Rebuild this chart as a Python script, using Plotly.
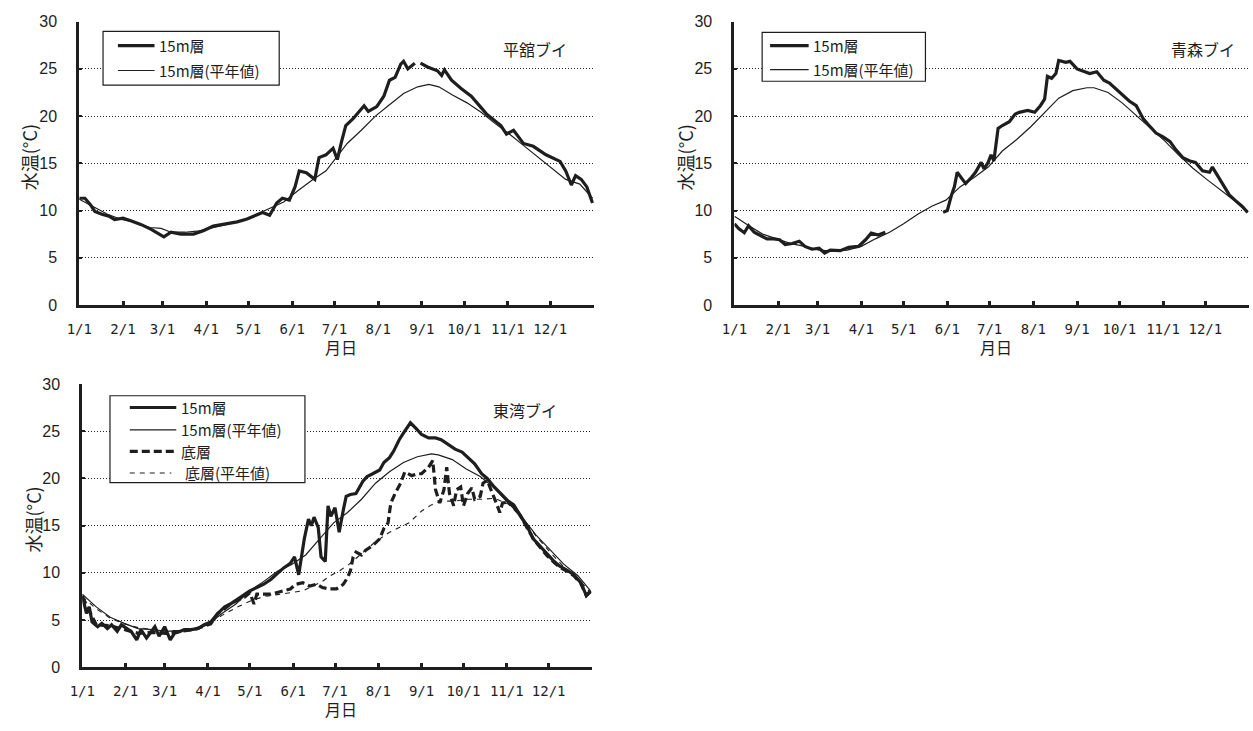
import pandas as pd
import plotly.graph_objects as go

# ---------------- data (day of year from 1/1, water temperature in deg C) -------------
month_ticks = ["1/1", "2/1", "3/1", "4/1", "5/1", "6/1", "7/1", "8/1", "9/1", "10/1", "11/1", "12/1", ""]
month_tick_dates = ["2010-01-01", "2010-02-01", "2010-03-01", "2010-04-01", "2010-05-01", "2010-06-01",
                    "2010-07-01", "2010-08-01", "2010-09-01", "2010-10-01", "2010-11-01", "2010-12-01",
                    "2011-01-01"]

# 平舘ブイ
tairadate_15m_day = [0, 4, 8, 11, 16, 21, 25, 31, 37, 44, 51, 56, 60, 65, 72, 81, 88, 95, 105, 112, 119, 126,
                     130, 135, 140, 144, 149, 153, 156, 161, 167, 170, 175, 180, 183, 186, 189, 194, 198, 202,
                     205, 211, 216, 220, 224, 228, 230, 233, 238, 240, 242, 247, 254, 257, 259, 264, 271, 278,
                     285, 289, 299, 303, 308, 315, 322, 331, 341, 345, 349, 352, 356, 360, 364]
tairadate_15m = [11.3, 11.3, 10.6, 9.9, 9.6, 9.4, 9.05, 9.2, 8.9, 8.5, 8.0, 7.5, 7.2, 7.7, 7.5, 7.5, 7.85, 8.35,
                 8.6, 8.8, 9.1, 9.5, 9.8, 9.5, 10.8, 11.3, 11.1, 12.5, 14.2, 14.0, 13.3, 15.6, 15.9, 16.6, 15.4,
                 17.3, 19.0, 19.7, 20.4, 21.1, 20.5, 21.0, 22.1, 23.8, 24.1, 25.5, 25.8, 25.0, 25.6, None, 25.6,
                 25.2, 24.8, 24.3, 24.9, 23.8, 22.9, 22.1, 20.9, 20.2, 19.0, 18.1, 18.5, 17.1, 16.8, 15.9, 15.2,
                 14.2, 12.7, 13.7, 13.3, 12.5, 10.8]
tairadate_norm_day = [0, 10, 20, 30, 40, 50, 58, 65, 75, 85, 95, 105, 115, 125, 135, 145, 155, 165, 175, 180,
                      190, 200, 210, 220, 230, 240, 248, 255, 265, 275, 285, 295, 305, 315, 325, 335, 345, 355, 364]
tairadate_norm = [11.2, 10.4, 9.6, 9.05, 8.7, 8.2, 8.1, 7.7, 7.7, 7.85, 8.2, 8.55, 8.9, 9.55, 10.25, 10.9, 12.1,
                  13.2, 14.2, 15.2, 17.1, 18.5, 20.0, 21.2, 22.4, 23.1, 23.35, 23.1, 22.2, 21.4, 20.4, 19.2, 18.1,
                  16.9, 15.7, 14.5, 13.3, 12.8, 11.3]

# 青森ブイ
aomori_15m_day = [0, 3, 7, 10, 14, 19, 23, 28, 32, 36, 41, 46, 50, 55, 60, 64, 68, 75, 81, 88, 93, 97, 102, 107,
                  128, 148, 151, 154, 156, 158, 161, 164, 168, 171, 175, 177, 180, 182, 184, 187, 190, 195, 199,
                  202, 208, 213, 217, 220, 222, 225, 228, 230, 235, 238, 243, 248, 252, 257, 262, 266, 271, 276,
                  280, 285, 290, 295, 299, 304, 309, 313, 318, 323, 327, 332, 337, 339, 342, 346, 351, 355, 360, 364]
aomori_15m = [8.6, 8.1, 7.65, 8.4, 7.7, 7.3, 7.0, 7.0, 6.9, 6.4, 6.5, 6.75, 6.2, 5.9, 6.0, 5.5, 5.8, 5.75, 6.1,
              6.2, 6.9, 7.6, 7.4, 7.7, None, 9.8, 10.0, 11.65, 12.5, 14.05, 13.5, 12.85, 13.5, 14.05, 15.1, 14.4,
              15.1, 15.9, 15.25, 18.7, 19.0, 19.4, 20.2, 20.4, 20.6, 20.4, 21.1, 21.8, 24.2, 24.0, 24.5, 25.9,
              25.7, 25.8, 25.0, 24.7, 24.5, 24.7, 23.8, 23.5, 22.8, 22.1, 21.6, 21.1, 19.7, 18.85, 18.2, 17.8,
              17.3, 16.45, 15.6, 15.25, 15.1, 14.2, 14.05, 14.6, 13.9, 12.85, 11.65, 11.1, 10.45, 9.8]
aomori_norm_day = [0, 10, 20, 30, 40, 50, 60, 70, 80, 90, 100, 110, 120, 130, 140, 150, 160, 170, 180, 190, 200,
                   210, 220, 230, 240, 250, 255, 265, 275, 285, 295, 305, 315, 325, 335, 345, 355, 364]
aomori_norm = [9.4, 8.4, 7.5, 7.0, 6.5, 6.2, 5.8, 5.7, 5.8, 6.2, 7.0, 7.7, 8.6, 9.6, 10.45, 11.1, 12.5, 13.5,
               14.6, 16.3, 17.5, 18.85, 20.4, 21.9, 22.7, 23.0, 23.0, 22.5, 21.4, 20.1, 18.8, 17.4, 15.9, 14.5,
               13.3, 12.1, 11.0, 9.8]

# 東湾ブイ
higashi_15m_day = [0, 3, 5, 7, 11, 14, 18, 21, 25, 28, 32, 35, 39, 42, 46, 50, 52, 55, 59, 63, 66, 70, 73, 78,
                   83, 87, 92, 97, 102, 106, 111, 116, 120, 125, 130, 135, 139, 144, 149, 152, 155, 157, 159,
                   162, 164, 166, 169, 171, 174, 176, 178, 181, 184, 187, 189, 192, 196, 201, 204, 208, 213, 216,
                   220, 223, 227, 230, 235, 239, 243, 248, 253, 257, 262, 267, 272, 276, 281, 286, 290, 295, 300,
                   305, 309, 314, 319, 323, 328, 333, 338, 342, 347, 352, 357, 361, 364]
higashi_15m = [7.6, 5.7, 6.4, 4.8, 4.3, 4.65, 4.1, 4.5, 3.8, 4.5, 4.1, 3.8, 2.9, 4.0, 3.1, 4.0, 4.3, 3.3, 4.3,
               2.9, 3.6, 3.8, 4.0, 4.0, 4.1, 4.5, 4.8, 5.7, 6.4, 6.7, 7.2, 7.6, 8.1, 8.45, 8.8, 9.3, 9.8, 10.5,
               11.0, 11.7, 9.8, 11.9, 13.6, 15.7, 15.0, 15.9, 14.8, 11.7, 11.2, 17.1, 16.0, 16.9, 14.3, 16.7,
               18.1, 18.3, 18.4, 19.7, 20.2, 20.5, 20.9, 21.7, 22.2, 22.9, 24.1, 24.8, 25.9, 25.3, 24.65, 24.3,
               24.3, 24.1, 23.6, 23.1, 22.8, 22.2, 21.55, 20.5, 20.0, 19.1, 18.3, 17.6, 17.2, 16.0, 14.8, 13.6,
               12.8, 11.9, 11.2, 10.7, 10.3, 9.8, 8.97, 7.6, 8.1]
higashi_15m_norm_day = [0, 10, 20, 30, 40, 50, 60, 70, 80, 90, 100, 110, 120, 130, 140, 150, 160, 170, 180, 190,
                        200, 210, 220, 230, 240, 250, 255, 265, 275, 285, 295, 305, 315, 325, 335, 345, 355, 364]
higashi_15m_norm = [7.75, 6.4, 5.3, 4.65, 4.1, 4.0, 3.8, 3.9, 4.0, 4.5, 5.7, 6.7, 8.1, 9.1, 10.2, 10.9, 11.9,
                    13.6, 15.3, 16.4, 17.8, 19.5, 20.7, 21.7, 22.3, 22.6, 22.5, 22.0, 21.0, 20.2, 19.0, 17.4,
                    15.9, 14.0, 12.4, 10.9, 9.7, 8.1]
higashi_bottom_day = [0, 5, 10, 20, 30, 40, 50, 60, 70, 80, 92, 97, 102, 106, 111, 116, 120, 123, 125, 130, 135,
                      139, 144, 149, 153, 158, 163, 168, 172, 177, 182, 187, 190, 192, 194, 196, 200, 203, 208,
                      213, 216, 219, 220, 221, 224, 228, 231, 236, 240, 243, 248, 251, 253, 256, 259, 261, 263,
                      266, 268, 271, 273, 276, 279, 281, 285, 287, 290, 294, 297, 299, 301, 305, 309, 314, 319,
                      323, 328, 333, 338, 342, 347, 352, 357, 361, 364]
higashi_bottom = [7.5, 6.0, 4.5, 4.4, 4.0, 3.6, 3.7, 3.6, 3.8, 4.0, 4.6, 5.7, 6.2, 6.7, 7.1, 7.4, 7.9, 6.7, 7.75,
                  7.75, 7.75, 7.9, 8.1, 8.3, 8.8, 8.95, 8.6, 8.8, 8.45, 8.3, 8.3, 8.8, 9.5, 10.2, 11.7, 12.2,
                  11.9, 12.4, 12.9, 13.6, 14.7, 15.3, 16.4, 17.4, 18.4, 19.5, 20.7, 20.3, 20.5, 20.5, 21.2, 21.9,
                  18.8, 17.4, 18.8, 21.2, 18.4, 17.1, 18.8, 19.1, 17.1, 18.4, 19.0, 17.8, 18.1, 19.5, 19.8, 18.4,
                  17.2, 16.4, 17.4, 17.5, 17.1, 16.0, 14.7, 13.6, 12.7, 11.8, 11.1, 10.6, 10.2, 9.7, 8.9, 7.6, 8.0]
higashi_bottom_norm_day = [0, 10, 20, 30, 40, 50, 60, 70, 80, 90, 100, 110, 120, 130, 140, 150, 158, 165, 172,
                           177, 184, 191, 201, 210, 220, 227, 234, 243, 250, 257, 267, 276, 286, 295, 305, 315,
                           325, 335, 345, 355, 364]
higashi_bottom_norm = [7.5, 6.2, 5.2, 4.6, 4.2, 4.0, 3.9, 3.9, 4.1, 4.5, 5.5, 6.3, 7.0, 7.5, 7.7, 7.9, 8.1, 8.6,
                       9.1, 9.65, 10.2, 10.9, 12.2, 13.3, 14.3, 14.8, 15.3, 16.55, 17.2, 17.6, 17.6, 17.8, 17.8,
                       17.9, 17.3, 15.8, 13.9, 12.2, 10.6, 9.4, 7.9]

legend_15m = "15m層"
legend_15m_norm = "15m層(平年値)"
legend_bottom = "底層"
legend_bottom_norm = "底層(平年値)"
station_names = ["平舘ブイ", "青森ブイ", "東湾ブイ"]
x_title = "月日"
y_title = "水温(°C)"

# ---------------- figure ----------------
W, H = 1253, 731
BASE = pd.Timestamp("2010-01-01")
INK = "#1e1e1e"
JP = "Noto Sans CJK JP, Noto Sans CJK SC, sans-serif"
NUM = "Liberation Sans, Arial, sans-serif"


def to_dates(days):
    return [BASE + pd.Timedelta(days=d) for d in days]


def px(xp):
    return xp / W


def py(yp):
    return 1 - yp / H


THICK = dict(color=INK, width=3.2)
THIN = dict(color=INK, width=1.2)
THICK_DASH = dict(color=INK, width=3.2, dash="8px,4px")
THIN_DASH = dict(color=INK, width=1.1, dash="5px,5px")

fig = go.Figure()


def add(days, vals, line, xa, ya, name):
    fig.add_trace(go.Scatter(x=to_dates(days), y=vals, mode="lines", line=line, name=name,
                             xaxis=xa, yaxis=ya, showlegend=False, connectgaps=False))


add(tairadate_norm_day, tairadate_norm, THIN, "x", "y", legend_15m_norm)
add(tairadate_15m_day, tairadate_15m, THICK, "x", "y", legend_15m)
add(aomori_norm_day, aomori_norm, THIN, "x2", "y2", legend_15m_norm)
add(aomori_15m_day, aomori_15m, THICK, "x2", "y2", legend_15m)
add(higashi_bottom_norm_day, higashi_bottom_norm, THIN_DASH, "x3", "y3", legend_bottom_norm)
add(higashi_bottom_day, higashi_bottom, THICK_DASH, "x3", "y3", legend_bottom)
add(higashi_15m_norm_day, higashi_15m_norm, THIN, "x3", "y3", legend_15m_norm)
add(higashi_15m_day, higashi_15m, THICK, "x3", "y3", legend_15m)

panels = [
    # (x0, x1, ytop, ybottom) in pixels
    (67, 587, 14, 304),
    (729, 1249, 14, 304),
    (70, 585, 385, 675),
]

layout = dict(width=W, height=H, margin=dict(l=0, r=0, t=0, b=0),
              paper_bgcolor="white", plot_bgcolor="white", showlegend=False)

for i, (x0, x1, yt, yb) in enumerate(panels):
    sfx = "" if i == 0 else str(i + 1)
    layout["xaxis" + sfx] = dict(
        domain=[px(x0), px(x1)], anchor="y" + sfx,
        range=[month_tick_dates[0], month_tick_dates[-1]],
        tickmode="array", tickvals=month_tick_dates, ticktext=month_ticks,
        ticks="inside", ticklen=4, tickwidth=3, tickcolor=INK,
        showline=True, linewidth=3, linecolor=INK, mirror=False,
        showgrid=False, zeroline=False,
        tickfont=dict(family="DejaVu Sans Mono, monospace", size=14, color=INK),
        ticklabelstandoff=9, fixedrange=True,
    )
    layout["yaxis" + sfx] = dict(
        domain=[py(yb), py(yt)], anchor="x" + sfx,
        range=[0, 30], tickmode="linear", tick0=0, dtick=5,
        ticks="inside", ticklen=3, tickwidth=2, tickcolor=INK,
        showline=True, linewidth=3, linecolor=INK,
        showgrid=True, gridcolor="#222222", gridwidth=1, griddash="1px,2px",
        zeroline=False,
        tickfont=dict(family=NUM, size=16, color=INK),
        ticklabelstandoff=16, fixedrange=True,
    )

fig.update_layout(**layout)

annotations = []
shapes = []

# axis titles
for (x0, x1, yt, yb) in panels:
    annotations.append(dict(x=px((x0 + x1) / 2 + 4), y=py(yb + 43), xref="paper", yref="paper",
                            text=x_title, showarrow=False, xanchor="center", yanchor="middle",
                            font=dict(family=JP, size=16, color=INK)))
    annotations.append(dict(x=px(x0 - 50), y=py((yt + yb) / 2 - 6), xref="paper", yref="paper",
                            text=y_title, showarrow=False, textangle=-90, xanchor="center", yanchor="middle",
                            font=dict(family=JP, size=18, color=INK)))

# station names
for name, (cx, cy) in zip(station_names, [(527, 42), (1202, 42), (517, 412)]):
    annotations.append(dict(x=px(cx), y=py(cy), xref="paper", yref="paper", text=name, showarrow=False,
                            xanchor="center", yanchor="middle", font=dict(family=JP, size=16, color=INK)))

# legend boxes (drawn)
legend_boxes = [
    dict(box=(91, 24, 269, 79), rows=[(38.5, THICK, legend_15m, 106, 143, 146),
                                     (64, THIN, legend_15m_norm, 106, 143, 146)]),
    dict(box=(757, 25, 922, 75), rows=[(38.5, THICK, legend_15m, 765, 804, 806),
                                      (63, THIN, legend_15m_norm, 765, 804, 806)]),
    dict(box=(98, 397, 295, 486), rows=[(409, THICK, legend_15m, 118, 165, 168),
                                       (432, THIN, legend_15m_norm, 118, 165, 168),
                                       (454, THICK_DASH, legend_bottom, 118, 165, 168),
                                       (476, THIN_DASH, legend_bottom_norm, 118, 160, 172)]),
]
for lb in legend_boxes:
    bx0, by0, bx1, by1 = lb["box"]
    shapes.append(dict(type="rect", xref="paper", yref="paper", x0=px(bx0), x1=px(bx1), y0=py(by1), y1=py(by0),
                       line=dict(color=INK, width=1.2), fillcolor="white", layer="above"))
    for (ry, ln, txt, sx0, sx1, tx) in lb["rows"]:
        shapes.append(dict(type="line", xref="paper", yref="paper", x0=px(sx0), x1=px(sx1), y0=py(ry), y1=py(ry),
                           line=ln, layer="above"))
        annotations.append(dict(x=px(tx), y=py(ry), xref="paper", yref="paper", text=txt, showarrow=False,
                                xanchor="left", yanchor="middle", font=dict(family=JP, size=15, color=INK)))

fig.update_layout(annotations=annotations, shapes=shapes)

fig.write_html("out.html", config={"displayModeBar": False},
               post_script="document.body.style.margin='0';document.body.style.overflow='hidden';")
